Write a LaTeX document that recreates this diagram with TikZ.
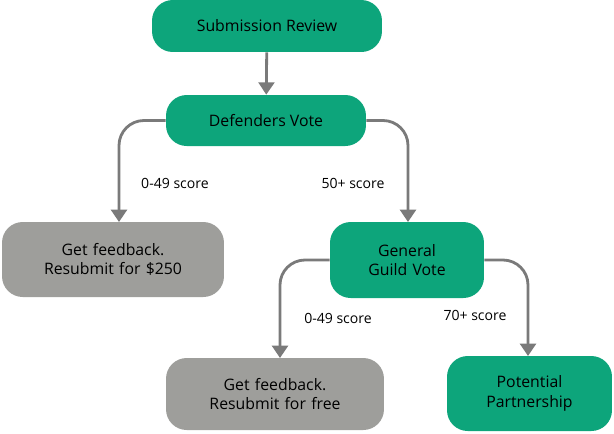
\documentclass[tikz,border=0pt]{standalone}
\usepackage{fontspec}
\setmainfont{Open Sans}
\usetikzlibrary{arrows.meta, positioning}
\definecolor{guildgreen}{HTML}{0DA57B}
\definecolor{guildgrey}{HTML}{9E9E9B}
\definecolor{linkgrey}{HTML}{7A7A7A}
\tikzset{
	every node/.style={
		font=\fontsize{9}{11}\selectfont
	},
	stage/.style={
		shape=rectangle,
		rounded corners=2.2ex,
		fill=guildgreen,
		text centered,
		inner sep=0pt
	},
	reject/.style={
		stage,
		fill=guildgrey
	},
	link/.style={
		draw=linkgrey,
		line width=1.6pt,
		rounded corners=0.5cm,
		-{Triangle[length=7pt,width=9pt]}
	},
	score/.style={
		font=\fontsize{8}{10}\selectfont
	}
}
\begin{document}
\begin{tikzpicture}[x=0.02cm,y=-0.02cm]
	\useasboundingbox (0,0) rectangle (614,433);
	
	\node[stage, minimum width=4.6cm, minimum height=1.04cm] (review) at (267,26) {Submission Review};
	\node[stage, minimum width=4cm, minimum height=1.02cm] (defenders) at (266,120.5) {Defenders Vote};
	\node[reject, minimum width=4.44cm, minimum height=1.5cm, text width=4cm] (paid) at (113,259.5) {Get feedback.\\Resubmit for \$250};
	\node[stage, minimum width=3.08cm, minimum height=1.52cm, text width=3cm] (guild) at (407,260) {General\\Guild Vote};
	\node[reject, minimum width=4.36cm, minimum height=1.44cm, text width=4cm] (free) at (275,394) {Get feedback.\\Resubmit for free};
	\node[stage, minimum width=3.3cm, minimum height=1.5cm, text width=3cm] (partner) at (529.5,393.5) {Potential\\Partnership};
	
	% arrow ends on the top edges
	\coordinate (paidtop) at (119,222);
	\coordinate (guildtop) at (408,222);
	\coordinate (freetop) at (280,358);
	\coordinate (partnertop) at (528,356);
	
	\draw[link] (review) -- (defenders);
	\draw[link] (defenders.west) -| (paidtop);
	\draw[link] (defenders.east) -| (guildtop);
	\draw[link] (guild.west) -| (freetop);
	\draw[link] (guild.east) -| (partnertop);
	
	\node[score] (lowa) at (175,183) {0-49 score};
	\node[score] (high) at (353,183) {50+ score};
	\node[score] (lowb) at (338,318) {0-49 score};
	\node[score] (top) at (475,315) {70+ score};
\end{tikzpicture}
\end{document}
